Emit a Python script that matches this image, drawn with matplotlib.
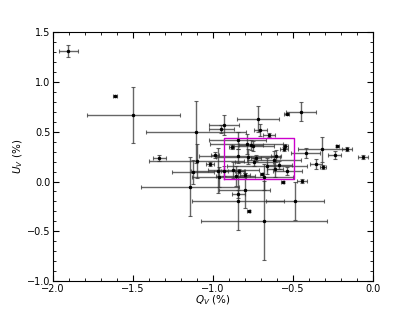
import matplotlib
matplotlib.use("Agg")
import matplotlib.pyplot as plt
from matplotlib.ticker import MultipleLocator

# Q_V, U_V and their errors (%)
q = [-1.904, -1.613, -1.498, -1.107, -1.336, -1.103, -1.124, -1.145,
     -1.018, -0.987, -0.968, -0.963, -0.948, -0.932, -0.930, -0.885,
     -0.847, -0.847, -0.845, -0.843, -0.836, -0.800, -0.802, -0.778,
     -0.760, -0.750, -0.730, -0.720, -0.705, -0.697, -0.680, -0.680,
     -0.650, -0.605, -0.613, -0.585, -0.565, -0.555, -0.549, -0.541,
     -0.535, -0.488, -0.452, -0.443, -0.420, -0.357, -0.322, -0.312,
     -0.241, -0.224, -0.164, -0.063, -0.790, -0.780, -0.746, -0.665,
     -0.620, -0.875, -0.860]
u = [1.309, 0.857, 0.669, 0.500, 0.238, 0.204, 0.094, -0.050,
     0.177, 0.271, 0.110, 0.044, 0.529, 0.569, 0.104, 0.345,
     0.412, 0.254, -0.191, -0.124, 0.110, 0.070, -0.090, -0.298,
     0.365, 0.361, 0.238, 0.626, 0.515, 0.077, -0.392, 0.044,
     0.468, 0.261, 0.127, 0.162, 0.000, 0.328, 0.361, 0.676,
     0.110, -0.197, 0.703, 0.010, 0.285, 0.177, 0.322, 0.144,
     0.268, 0.361, 0.322, 0.244, 0.378, 0.251, 0.194, 0.154,
     0.214, 0.120, 0.060]
qerr = [0.060, 0.010, 0.290, 0.312, 0.040, 0.298, 0.130, 0.308,
        0.025, 0.025, 0.170, 0.170, 0.080, 0.095, 0.020, 0.015,
        0.180, 0.240, 0.290, 0.040, 0.030, 0.030, 0.160, 0.010,
        0.075, 0.130, 0.030, 0.130, 0.040, 0.010, 0.393, 0.180,
        0.040, 0.030, 0.050, 0.080, 0.010, 0.025, 0.015, 0.015,
        0.090, 0.182, 0.095, 0.030, 0.090, 0.040, 0.150, 0.020,
        0.040, 0.010, 0.030, 0.030, 0.230, 0.200, 0.120, 0.250,
        0.170, 0.160, 0.120]
uerr = [0.060, 0.010, 0.280, 0.310, 0.030, 0.170, 0.120, 0.300,
        0.020, 0.030, 0.230, 0.100, 0.040, 0.100, 0.050, 0.020,
        0.090, 0.070, 0.300, 0.040, 0.020, 0.020, 0.180, 0.010,
        0.050, 0.050, 0.030, 0.130, 0.060, 0.010, 0.400, 0.130,
        0.020, 0.060, 0.080, 0.040, 0.010, 0.020, 0.020, 0.010,
        0.040, 0.190, 0.100, 0.020, 0.050, 0.050, 0.130, 0.020,
        0.040, 0.010, 0.020, 0.020, 0.100, 0.080, 0.040, 0.080,
        0.090, 0.080, 0.100]

# highlighted region (magenta box)
box_q = [-0.932, -0.495]
box_u = [0.027, 0.435]

plt.rcParams["font.family"] = "DejaVu Sans"
plt.rcParams["mathtext.fontset"] = "dejavusans"

fig = plt.figure(figsize=(4.15, 3.12), dpi=100)
ax = fig.add_axes([0.128, 0.099, 0.771, 0.798])

ax.errorbar(q, u, xerr=qerr, yerr=uerr, fmt=".", color="k", ms=3,
            ecolor=(0.2, 0.2, 0.2, 0.75), elinewidth=1.0, capsize=1.5,
            capthick=0.8)

ax.plot([box_q[0], box_q[1], box_q[1], box_q[0], box_q[0]],
        [box_u[0], box_u[0], box_u[1], box_u[1], box_u[0]],
        color="#cc00cc", lw=1.0)

ax.set_xlim(-2.0, 0.0)
ax.set_ylim(-1.0, 1.5)
ax.xaxis.set_major_locator(MultipleLocator(0.5))
ax.yaxis.set_major_locator(MultipleLocator(0.5))
ax.xaxis.set_minor_locator(MultipleLocator(0.1))
ax.yaxis.set_minor_locator(MultipleLocator(0.1))
ax.tick_params(which="both", direction="in", top=True, right=True,
               labelsize=7, pad=2)
ax.tick_params(which="major", length=4, width=0.8)
ax.tick_params(which="minor", length=2, width=0.6)
for s in ax.spines.values():
    s.set_linewidth(0.8)

ax.set_xlabel(r"$Q_V$ (%)", fontsize=7.5, labelpad=0)
ax.set_ylabel(r"$U_V$ (%)", fontsize=7.5, labelpad=1)

fig.savefig("out.png", dpi=100)
